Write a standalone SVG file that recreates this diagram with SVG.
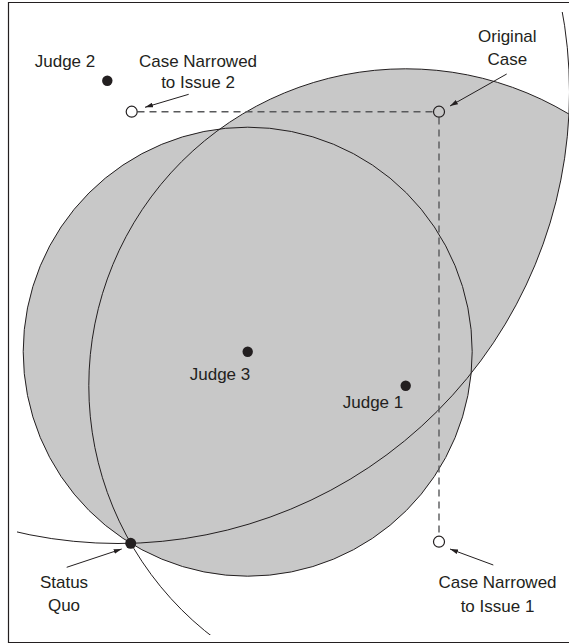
<svg xmlns="http://www.w3.org/2000/svg" width="569" height="644" viewBox="0 0 569 644">
<style>
.t{font-family:"Liberation Sans",Arial,sans-serif;font-size:17px;fill:#231f20;text-anchor:middle}
.c{fill:none;stroke:#231f20;stroke-width:1}
.dash{fill:none;stroke:#58595b;stroke-width:1.4;stroke-dasharray:7 5}
.dot{fill:#231f20}
.open{fill:none;stroke:#231f20;stroke-width:1.2}
.arr{fill:none;stroke:#231f20;stroke-width:1;marker-end:url(#ah)}
</style>
<defs>
<marker id="ah" viewBox="0 0 10 6" refX="10" refY="3" markerWidth="8" markerHeight="4.8" markerUnits="userSpaceOnUse" orient="auto">
<path d="M0,0 L10,3 L0,6 Z" fill="#231f20"/>
</marker>
<clipPath id="clipJ2"><circle cx="118" cy="92" r="451.5"/></clipPath>
<clipPath id="clipR"><rect x="17" y="12" width="560" height="623"/></clipPath>
</defs>
<rect width="569" height="644" fill="#ffffff"/>
<g id="regions">
<circle cx="247.7" cy="351.7" r="224.5" fill="#c8c8c8"/>
<circle cx="405.7" cy="385.7" r="316.9" fill="#c8c8c8" clip-path="url(#clipJ2)"/>
</g>
<g id="connectors">
<g clip-path="url(#clipR)">
<circle class="c" cx="247.7" cy="351.7" r="224.5"/>
<circle class="c" cx="405.7" cy="385.7" r="316.9"/>
<circle class="c" cx="118" cy="92" r="451.5"/>
</g>
<path class="dash" d="M137.5,111.7 H433.3"/>
<path class="dash" d="M439,117.4 V536"/>
<path class="arr" d="M188.7,94.3 L145,107.3"/>
<path class="arr" d="M506.7,74 L450,106"/>
<path class="arr" d="M493.3,565 L450,549"/>
<path class="arr" d="M66.7,567.3 L121.7,549"/>
</g>
<g id="judge2"><circle class="dot" cx="107.3" cy="80.7" r="5.2"/><text class="t" x="65" y="67">Judge 2</text></g>
<g id="judge3"><circle class="dot" cx="247.7" cy="351.7" r="5.2"/><text class="t" x="220" y="380">Judge 3</text></g>
<g id="judge1"><circle class="dot" cx="405.7" cy="385.7" r="5.2"/><text class="t" x="373" y="408.3">Judge 1</text></g>
<g id="status-quo"><circle class="dot" cx="130.7" cy="543.3" r="5.5"/><text class="t" x="64" y="588.3">Status</text><text class="t" x="64" y="610.7">Quo</text></g>
<g id="original-case"><circle class="open" cx="439" cy="111.7" r="5.5"/><text class="t" x="507.3" y="42">Original</text><text class="t" x="507.3" y="65">Case</text></g>
<g id="case-issue2"><circle class="open" cx="131.7" cy="111.7" r="5.5"/><text class="t" x="198" y="67">Case Narrowed</text><text class="t" x="198" y="88">to Issue 2</text></g>
<g id="case-issue1"><circle class="open" cx="439" cy="541.7" r="5.5"/><text class="t" x="497.5" y="588.3">Case Narrowed</text><text class="t" x="497.5" y="611.7">to Issue 1</text></g>
<path id="frame" d="M569,2.5 H8.5 V642.5 H569" fill="none" stroke="#231f20" stroke-width="1.2"/>
</svg>
